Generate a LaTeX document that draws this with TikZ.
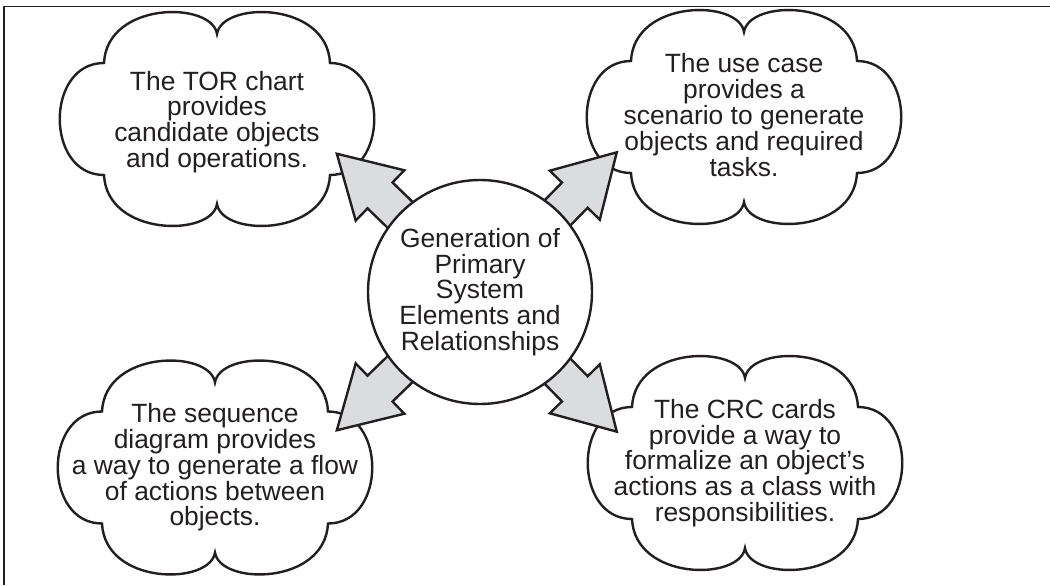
\documentclass[tikz,border=0pt]{standalone}
\usepackage{fontspec}
\setmainfont{Liberation Sans}
\usetikzlibrary{calc}
\definecolor{mauxam}{RGB}{219,220,222}
\definecolor{mauden}{RGB}{35,31,32}
\pgfdeclarelayer{nen}
\pgfsetlayers{nen,main}

% mui ten khoi: #1 = goc, #2 = dinh
\newcommand{\muiten}[2]{%
	\coordinate (#2-h) at ($(#2)!30pt!(#1)$);
	\coordinate (#2-s) at ($(#1)!30pt!(#2)$);
	\draw[muiten] (#2) -- ($(#2-h)!17.5pt!90:(#1)$) -- ($(#2-h)!9pt!90:(#1)$)
		-- ($(#2-s)!9pt!-90:(#2)$) -- ($(#2-s)!9pt!90:(#2)$)
		-- ($(#2-h)!9pt!-90:(#1)$) -- ($(#2-h)!17.5pt!-90:(#1)$) -- cycle;}

% dam may quanh toa do #1
\newcommand{\damMay}[1]{%
	\draw[may,shift={(#1)}] (-113,56) .. controls (-110,118) and (-5,118) .. (0,85)
		.. controls (5,118) and (110,118) .. (113,56)
		.. controls (172,56) and (172,-56) .. (113,-56)
		.. controls (110,-118) and (5,-118) .. (0,-85)
		.. controls (-5,-118) and (-110,-118) .. (-113,-56)
		.. controls (-172,-56) and (-172,56) .. cycle;}

\begin{document}
\begin{tikzpicture}[x=0.5pt,y=0.5pt,line join=round,line cap=round,
	font=\fontsize{13.2}{12.9}\selectfont,
	may/.style={draw=mauden,line width=1.2pt,fill=white},
	chu/.style={align=center,inner sep=0pt,text=mauden},
	tron/.style={circle,draw=mauden,line width=1.2pt,fill=white,minimum size=112pt,inner sep=0pt,align=center,text=mauden},
	muiten/.style={draw=mauden,fill=mauxam,line width=1.2pt}]
	
	\def\xtrai{4} \def\ytren{578.5}
	\useasboundingbox (0,0) rectangle (1050,585);
	\draw[line width=0.85pt,line cap=butt,draw=mauden] (\xtrai,0)--(\xtrai,\ytren)--(1050,\ytren);
	
	\coordinate (tam) at (480,293);
	\node[tron] (gen) at (tam) {Generation of\\Primary\\System\\Elements and\\Relationships};
	
	\coordinate (tor) at (217,466);
	\coordinate (usecase) at (744,468);
	\coordinate (seq) at (215,117.5);
	\coordinate (crc) at (745,122);
	
	\begin{pgfonlayer}{nen}
		\foreach \ten in {tor,usecase,seq,crc}
		\damMay{\ten};
		
		\foreach \ten/\goc/\dai in {tor/136/199,usecase/45.6/195.5,seq/224/199,crc/314.4/195.5}
		{\coordinate (\ten-m) at ($(tam)+(\goc:\dai)$);
		\muiten{tam}{\ten-m}}
	\end{pgfonlayer}
	
	\node[chu] (tor-t) at ($(tor)+(0,-3)$) {The TOR chart\\provides\\candidate objects\\and operations.};
	\node[chu] (usecase-t) at ($(usecase)+(0,2)$) {The use case\\provides a\\scenario to generate\\objects and required\\tasks.};
	\node[chu] (seq-t) at (seq) {The sequence\\diagram provides\\a way to generate a flow\\of actions between\\objects.};
	\node[chu] (crc-t) at (crc) {The CRC cards\\provide a way to\\formalize an object's\\actions as a class with\\responsibilities.};
\end{tikzpicture}
\end{document}
